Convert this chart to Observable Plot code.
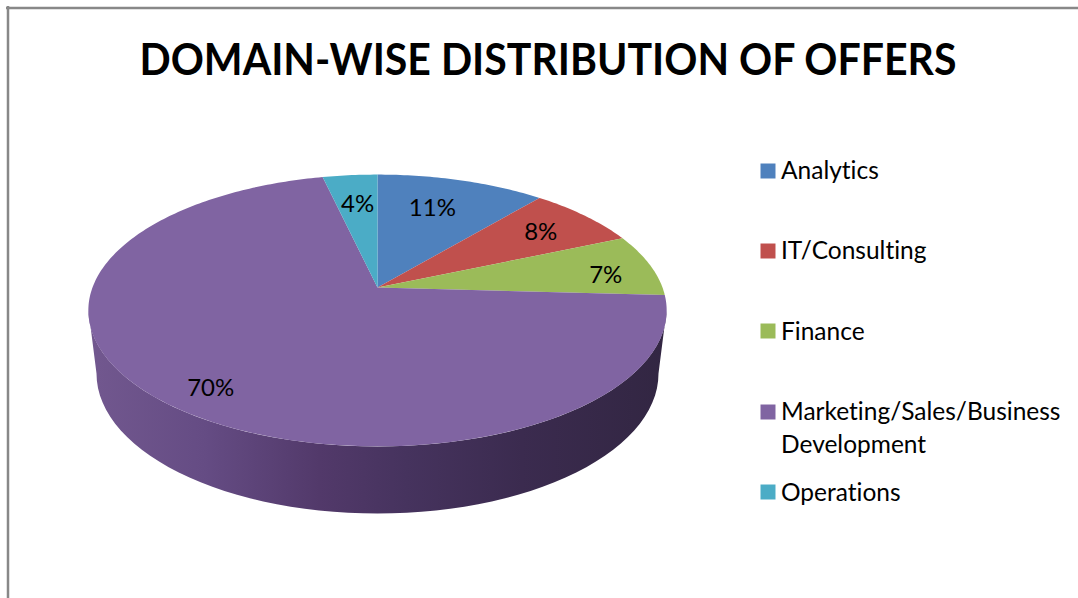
<!DOCTYPE html>
<html>
<head>
<meta charset="utf-8">
<style>html,body{margin:0;padding:0;background:#fff} svg text{font-variant-ligatures:none}</style>
<script src="https://cdn.jsdelivr.net/npm/d3@7"></script>
<script src="https://cdn.jsdelivr.net/npm/@observablehq/plot@0.6"></script>
</head>
<body>
<script>
const chartTitle = "DOMAIN-WISE DISTRIBUTION OF OFFERS";
const categories = ["Analytics", "IT/Consulting", "Finance", "Marketing/Sales/Business\nDevelopment", "Operations"];
const shares = [11.1, 7.4, 7.4, 70.5, 3.6];
const shareLabels = ["11%", "8%", "7%", "70%", "4%"];
const colors = ["#4f81bd", "#c0504d", "#9bbb59", "#8064a2", "#4bacc6"];
const labelRadius = [0.71, 0.77, 0.82, 0.85, 0.72];
const labelAlong = [0.44, 0.5, 0.62, 0.49, 0.52];
const legendTextRows = [170, 250, 331, 427.5, 492];
const legendSwatchRows = [170.5, 250.5, 330.5, 411.5, 491.5];

// Perspective of the tilted disc
const apex = {x: 377, y: 287}, a = 285, b = 132, k = 0.169;
const project = (r, t) => {
  const X = r * Math.sin(t), Y = r * Math.cos(t), w = 1 + k * Y;
  return {x: apex.x + a * X / w, y: apex.y - b * Y / w};
};
const total = d3.sum(shares);
const turn = (v) => v / total * 2 * Math.PI;

let start = 0;
const slices = [], labels = [];
categories.forEach((name, i) => {
  const t0 = start, t1 = start + turn(shares[i]);
  const n = Math.max(4, Math.ceil(shares[i] * 4));
  slices.push({name, x: apex.x, y: apex.y});
  for (let j = 0; j <= n; ++j) slices.push({name, ...project(1, t0 + (t1 - t0) * j / n)});
  labels.push({text: shareLabels[i], ...project(labelRadius[i], t0 + (t1 - t0) * labelAlong[i])});
  start = t1;
});

// Rim: front half of the top ellipse, back along a smaller ellipse below it
const top_ = {cx: 377, cy: 310, rx: 289, ry: 136};
const low = {cx: 377, cy: 373, rx: 281, ry: 140};
const angles = d3.range(0, 181, 3).map((d) => d * Math.PI / 180);
const rim = [
  ...angles.map((u) => ({x: top_.cx - top_.rx * Math.cos(u), y: top_.cy + top_.ry * Math.sin(u)})),
  ...angles.slice().reverse().map((u) => ({x: low.cx - low.rx * Math.cos(u), y: low.cy + low.ry * Math.sin(u)}))
];

const gradient = () => {
  const svg = d3.create("svg:defs");
  const g = svg.append("linearGradient").attr("id", "rimShade").attr("gradientUnits", "userSpaceOnUse")
    .attr("x1", 88).attr("x2", 666).attr("y1", 0).attr("y2", 0);
  [[0, "#72588f"], [0.2, "#654c84"], [0.4, "#52396a"], [0.55, "#46335e"], [0.75, "#3b2b4f"], [1, "#322642"]]
    .forEach(([o, c]) => g.append("stop").attr("offset", o).attr("stop-color", c));
  return svg.node();
};

const legend = categories.map((name, i) => ({name, textY: legendTextRows[i], swatchY: legendSwatchRows[i]}));
const fontFamily = "Lato, Carlito, Calibri, sans-serif";
const fitWidth = (width) => (index, scales, values, dimensions, context, next) => {
  const g = next(index, scales, values, dimensions, context);
  d3.select(g).selectAll("text").attr("textLength", width).attr("lengthAdjust", "spacingAndGlyphs");
  return g;
};

const chart = Plot.plot({
  width: 1078, height: 598, margin: 0,
  style: {background: "#fff", fontFamily},
  x: {domain: [0, 1078], range: [0, 1078], axis: null},
  y: {domain: [0, 598], range: [0, 598], axis: null},
  color: {domain: categories, range: colors},
  marks: [
    gradient,
    Plot.ruleY([7.5], {x1: 6, x2: 1078, stroke: "#888", strokeWidth: 2.5}),
    Plot.ruleX([7.5], {y1: 6, y2: 598, stroke: "#888", strokeWidth: 2.5}),
    Plot.text([chartTitle], {x: 547.5, y: 60, text: (d) => d, fontSize: 44, fontWeight: 700, fill: "#000", textAnchor: "middle", render: fitWidth(817)}),
    Plot.line(rim, {x: "x", y: "y", fill: "url(#rimShade)", stroke: "none"}),
    Plot.line(slices, {x: "x", y: "y", z: "name", fill: "name", stroke: "none"}),
    Plot.text(labels, {x: "x", y: "y", dy: 1, text: "text", fontSize: 24, fill: "#000"}),
    Plot.dot(legend, {x: 767.5, y: "swatchY", symbol: "square", r: 8.46, fill: "name", stroke: "none"}),
    Plot.text(legend, {x: 780.5, y: "textY", dy: -2, text: "name", fontSize: 24.5, fill: "#000", textAnchor: "start", lineHeight: 1.35})
  ]
});
document.body.appendChild(chart);
</script>
</body>
</html>
